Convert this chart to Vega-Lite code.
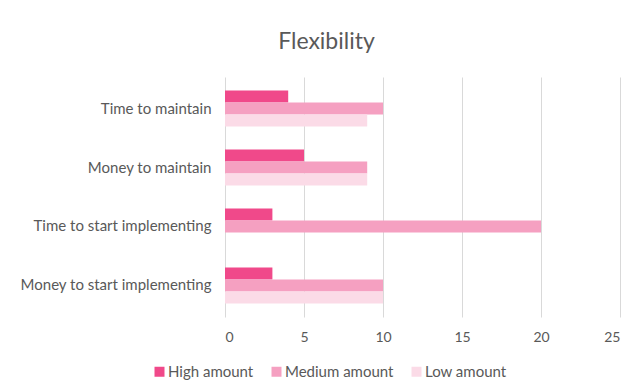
{
  "$schema": "https://vega.github.io/schema/vega-lite/v6.json",
  "autosize": {"type": "none"},
  "padding": {"left": 225, "top": 77, "right": 19, "bottom": 74},
  "width": 395,
  "height": 240,
  "background": "white",
  "config": {
    "font": "Lato",
    "view": {"stroke": null}
  },
  "title": {
    "text": "Flexibility",
    "fontSize": 23,
    "fontWeight": "normal",
    "color": "#595959",
    "anchor": "middle",
    "dx": -96,
    "offset": 23,
    "font": "Lato"
  },
  "data": {
    "values": [
      {"category": "Time to maintain", "series": "High amount", "value": 4},
      {"category": "Time to maintain", "series": "Medium amount", "value": 10},
      {"category": "Time to maintain", "series": "Low amount", "value": 9},
      {"category": "Money to maintain", "series": "High amount", "value": 5},
      {"category": "Money to maintain", "series": "Medium amount", "value": 9},
      {"category": "Money to maintain", "series": "Low amount", "value": 9},
      {"category": "Time to start implementing", "series": "High amount", "value": 3},
      {"category": "Time to start implementing", "series": "Medium amount", "value": 20},
      {"category": "Time to start implementing", "series": "Low amount", "value": 0},
      {"category": "Money to start implementing", "series": "High amount", "value": 3},
      {"category": "Money to start implementing", "series": "Medium amount", "value": 10},
      {"category": "Money to start implementing", "series": "Low amount", "value": 10}
    ]
  },
  "mark": {"type": "bar"},
  "encoding": {
    "y": {
      "field": "category",
      "type": "nominal",
      "sort": ["Time to maintain", "Money to maintain", "Time to start implementing", "Money to start implementing"],
      "scale": {"paddingInner": 0.39, "paddingOuter": 0.23},
      "axis": {
        "title": null,
        "domain": false,
        "ticks": false,
        "labelPadding": 14,
        "labelFontSize": 15,
        "labelColor": "#595959",
        "labelFont": "Lato",
        "labelLimit": 300
      }
    },
    "yOffset": {
      "field": "series",
      "type": "nominal",
      "sort": ["High amount", "Medium amount", "Low amount"],
      "scale": {"paddingInner": 0, "paddingOuter": 0}
    },
    "x": {
      "field": "value",
      "type": "quantitative",
      "scale": {"domain": [0, 25], "nice": false},
      "axis": {
        "title": null,
        "values": [0, 5, 10, 15, 20, 25],
        "domain": false,
        "ticks": false,
        "labelPadding": 13,
        "labelFontSize": 14,
        "labelColor": "#595959",
        "labelFont": "Lato",
        "gridColor": "#d9d9d9",
        "gridWidth": 1
      }
    },
    "color": {
      "field": "series",
      "type": "nominal",
      "sort": ["High amount", "Medium amount", "Low amount"],
      "scale": {
        "domain": ["High amount", "Medium amount", "Low amount"],
        "range": ["#f0498a", "#f5a0c1", "#fbdbe7"]
      },
      "legend": {
        "title": null,
        "orient": "none",
        "direction": "horizontal",
        "legendX": -73,
        "legendY": 287,
        "symbolType": "square",
        "symbolSize": 100,
        "symbolStrokeWidth": 0,
        "labelFontSize": 15,
        "labelColor": "#595959",
        "labelFont": "Lato",
        "labelOffset": 1,
        "columnPadding": 15
      }
    }
  }
}
